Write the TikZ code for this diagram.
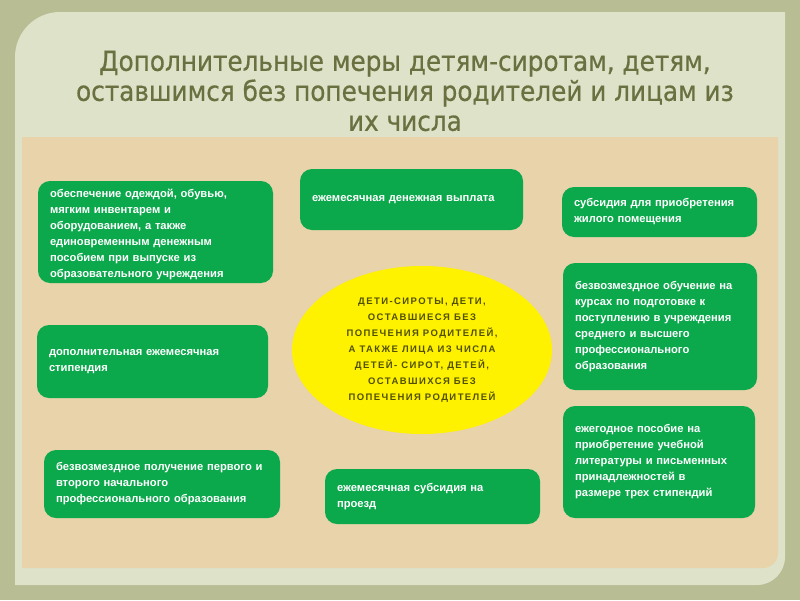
\documentclass[tikz,border=0pt]{standalone}
\usepackage{fontspec}
\setmainfont{Liberation Sans}
\newfontfamily\titlefont[FakeBold=0.6]{DejaVu Sans Condensed}
\usetikzlibrary{positioning}
\usetikzlibrary{shapes.geometric}

\definecolor{olivebg}{HTML}{B9BD94}
\definecolor{panel}{HTML}{DDE2C9}
\definecolor{sand}{HTML}{E8D3AA}
\definecolor{boxgreen}{HTML}{0BA84C}
\definecolor{titlecol}{HTML}{6A7040}
\definecolor{ovaltext}{HTML}{505000}

\begin{document}
\begin{tikzpicture}[x=1pt,y=-1pt,
                measure node/.style={rectangle,rounded corners=12pt,fill=boxgreen,text=white,
                  font=\fontsize{11.2}{16}\selectfont\bfseries,align=left,inner xsep=12pt},
                center node/.style={ellipse,fill=yellow,text=ovaltext,align=center,
                  font=\fontsize{9.5}{16}\selectfont\bfseries\addfontfeatures{LetterSpace=15}}]

  \useasboundingbox (0,0) rectangle (800,600);
  \fill[olivebg] (0,0) rectangle (800,600);
  \fill[panel] (15,585) -- (15,57) arc[start angle=180,end angle=270,radius=45]
    -- (785,12) -- (785,557) arc[start angle=0,end angle=90,radius=28] -- cycle;
  \fill[sand] (22,137) -- (778,137) -- (778,553) arc[start angle=0,end angle=90,radius=15]
    -- (22,568) -- cycle;

  \node[text=titlecol,font=\titlefont\fontsize{27.5}{30}\selectfont,align=center] (title) at (405,91)
    {Дополнительные меры детям-сиротам, детям,\\
     оставшимся без попечения родителей и лицам из\\
     их числа};

  \node[center node,minimum width=260pt,minimum height=168pt] (c) at (422,350)
    {ДЕТИ-СИРОТЫ, ДЕТИ,\\ ОСТАВШИЕСЯ БЕЗ\\ ПОПЕЧЕНИЯ РОДИТЕЛЕЙ,\\
     А ТАКЖЕ ЛИЦА ИЗ ЧИСЛА\\ ДЕТЕЙ- СИРОТ, ДЕТЕЙ,\\ ОСТАВШИХСЯ БЕЗ\\ ПОПЕЧЕНИЯ РОДИТЕЛЕЙ};

  \node[measure node,minimum width=235pt,minimum height=100pt,text width=211pt] (1) at (155.5,232)
    {\rule{0pt}{13pt}обеспечение одеждой, обувью,\\ мягким инвентарем и\\ оборудованием, а также\\
     единовременным денежным\\ пособием при выпуске из\\ образовательного учреждения};
  \node[measure node,minimum width=223pt,minimum height=61pt,text width=199pt] (2) at (411.5,199.5)
    {ежемесячная денежная выплата};
  \node[measure node,minimum width=195pt,minimum height=50pt,text width=171pt] (3) at (659.5,212)
    {субсидия для приобретения\\ жилого помещения};
  \node[measure node,minimum width=194pt,minimum height=127pt,text width=170pt] (4) at (660,326.5)
    {безвозмездное обучение на\\ курсах по подготовке к\\ поступлению в учреждения\\
     среднего и высшего\\ профессионального\\ образования};
  \node[measure node,minimum width=231pt,minimum height=73pt,text width=207pt] (5) at (152.5,361.5)
    {дополнительная ежемесячная\\ стипендия};
  \node[measure node,minimum width=192pt,minimum height=112pt,text width=168pt] (6) at (659,462)
    {ежегодное пособие на\\ приобретение учебной\\ литературы и письменных\\
     принадлежностей в\\ размере трех стипендий};
  \node[measure node,minimum width=236pt,minimum height=68pt,text width=212pt] (7) at (162,484)
    {безвозмездное получение первого и\\ второго начального\\ профессионального образования};
  \node[measure node,minimum width=215pt,minimum height=55pt,text width=191pt] (8) at (432.5,496.5)
    {ежемесячная субсидия на\\ проезд};
\end{tikzpicture}
\end{document}
